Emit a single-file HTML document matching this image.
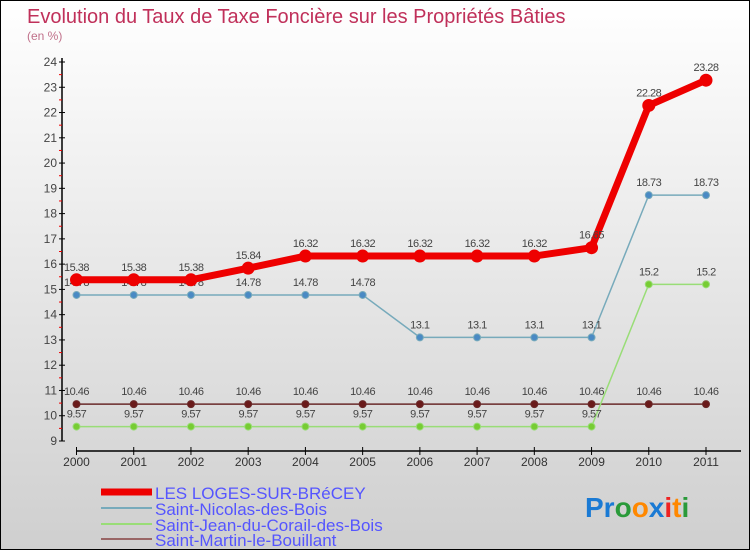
<!DOCTYPE html>
<html><head><meta charset="utf-8"><style>
body{margin:0}
#c{position:relative;width:748px;height:548px;border:1px solid #000;background:linear-gradient(#fff,#cfcfcf);overflow:hidden;font-family:"Liberation Sans",sans-serif}
</style></head><body>
<div id="c">
<svg id="s" width="748" height="548" style="position:absolute;left:0;top:0">
<text x="26" y="22" font-size="20" fill="#c0305a">Evolution du Taux de Taxe Foncière sur les Propriétés Bâties</text>
<text x="26" y="39" font-size="12" fill="#c0708a">(en %)</text>
<g id="axes"></g><g id="series"></g>
<g>
<line x1="100" y1="491" x2="151" y2="491" stroke="#e00" stroke-width="7"/>
<text x="154" y="498" font-size="17" fill="#55f">LES LOGES-SUR-BRéCEY</text>
<line x1="100" y1="507" x2="151" y2="507" stroke="#7ab" stroke-width="2"/>
<text x="154" y="514" font-size="17" fill="#55f">Saint-Nicolas-des-Bois</text>
<line x1="100" y1="523" x2="151" y2="523" stroke="#9d7" stroke-width="2"/>
<text x="154" y="530" font-size="17" fill="#55f">Saint-Jean-du-Corail-des-Bois</text>
<line x1="100" y1="538" x2="151" y2="538" stroke="#966" stroke-width="2"/>
<text x="154" y="545" font-size="17" fill="#55f">Saint-Martin-le-Bouillant</text>
</g>
<g font-size="28" font-weight="bold" font-family="Liberation Sans,sans-serif">
<text x="584" y="516"><tspan fill="#1a7ad4">Pr</tspan><tspan fill="#2a9a3a">o</tspan><tspan fill="#f80">o</tspan><tspan fill="#1a7ad4">x</tspan><tspan fill="#e22">i</tspan><tspan fill="#f80">t</tspan><tspan fill="#2a9a3a">i</tspan></text>
</g>
</svg>
</div>
<script>
const years=[2000,2001,2002,2003,2004,2005,2006,2007,2008,2009,2010,2011];
const loges=[15.38,15.38,15.38,15.84,16.32,16.32,16.32,16.32,16.32,16.65,22.28,23.28];
const nicolas=[14.78,14.78,14.78,14.78,14.78,14.78,13.1,13.1,13.1,13.1,18.73,18.73];
const jean=[9.57,9.57,9.57,9.57,9.57,9.57,9.57,9.57,9.57,9.57,15.2,15.2];
const martin=[10.46,10.46,10.46,10.46,10.46,10.46,10.46,10.46,10.46,10.46,10.46,10.46];
const yTicks=[9,10,11,12,13,14,15,16,17,18,19,20,21,22,23,24];
const NS="http://www.w3.org/2000/svg";
const X=i=>75.5+i*(705-75.5)/11;
const Y=v=>440-(v-9)*(440-61)/15;
function mk(t,a,p){const e=document.createElementNS(NS,t);for(const k in a)e.setAttribute(k,a[k]);p.appendChild(e);return e;}
const ax=document.getElementById('axes');
let l=mk('line',{x1:61,y1:57,x2:61,y2:440,stroke:'#000','stroke-width':1.5},ax);


yTicks.forEach(v=>{
 mk('line',{x1:58,y1:Y(v),x2:64,y2:Y(v),stroke:'#000'},ax);
 if(v<24)mk('line',{x1:58,y1:Y(v+0.5),x2:61,y2:Y(v+0.5),stroke:'#e00'},ax);
 const t=mk('text',{x:56,y:Y(v)+4,'font-size':12,fill:'#444','text-anchor':'end'},ax);t.textContent=v;
 
 
});
l=mk('line',{x1:75,y1:450,x2:740,y2:450,stroke:'#000','stroke-width':1.5},ax);


years.forEach((y,i)=>{
 mk('line',{x1:X(i),y1:446,x2:X(i),y2:454,stroke:'#000'},ax);
 const t=mk('text',{x:X(i),y:465,'font-size':12,fill:'#333','text-anchor':'middle'},ax);t.textContent=y;
 
 
});
const sg=document.getElementById('series');
function draw(name,vals,color,w,r,dot){
 const g=mk('g',{},sg);
 
 
 mk('polyline',{points:vals.map((v,i)=>X(i)+','+Y(v)).join(' '),fill:'none',stroke:color,'stroke-width':w,'stroke-linejoin':'round'},g);
 vals.forEach((v,i)=>{
  const c=mk('circle',{cx:X(i),cy:Y(v),r:r,fill:dot,stroke:color},g);
  
  
  const t=mk('text',{x:X(i),y:Y(v)-9,'font-size':11,fill:'#444','text-anchor':'middle','letter-spacing':'-0.5'},g);
  t.textContent=v;
  
  
 });
}
draw('martin',martin,'#6a2a2a',1.5,3.5,'#6a1a1a');
draw('jean',jean,'#9d7',1.5,3.5,'#7c3');
draw('nicolas',nicolas,'#7ab',1.5,3.5,'#4a8ac4');
draw('loges',loges,'#e00',7,6,'#e00');
</script>
</body></html>
